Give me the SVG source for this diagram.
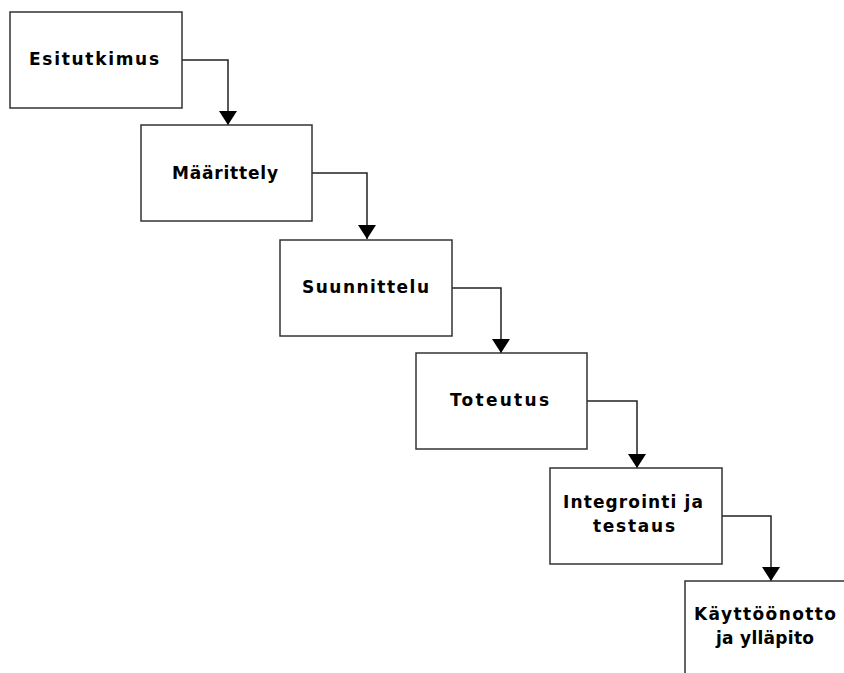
<svg xmlns="http://www.w3.org/2000/svg" width="844" height="673" viewBox="0 0 844 673">
<style>
.box{fill:#ffffff;stroke:#333333;stroke-width:1.5}
.lbl{font-family:"DejaVu Sans","Liberation Sans",sans-serif;font-weight:bold;font-size:17px;fill:#000000}
.con{fill:none;stroke:#222222;stroke-width:1.5;marker-end:url(#arr)}
</style>
<defs>
<marker id="arr" viewBox="0 0 14 18" refX="14" refY="9" markerWidth="14" markerHeight="18" markerUnits="userSpaceOnUse" orient="auto">
<path d="M0,0 L14,9 L0,18 Z" fill="#000000"/>
</marker>
</defs>
<rect width="844" height="673" fill="#ffffff"/>
<g id="connectors">
<path class="con" d="M182,60 H228 V125"/>
<path class="con" d="M312,173 H367 V239"/>
<path class="con" d="M452,288 H501 V353"/>
<path class="con" d="M587,401 H637 V468"/>
<path class="con" d="M722,516 H771 V581"/>
</g>
<g id="esitutkimus">
<rect class="box" x="10" y="12" width="172" height="96"/>
<text class="lbl" x="29" y="65" textLength="130" lengthAdjust="spacing">Esitutkimus</text>
</g>
<g id="maarittely">
<rect class="box" x="141" y="125" width="171" height="96"/>
<text class="lbl" x="172" y="179" textLength="106" lengthAdjust="spacing">Määrittely</text>
</g>
<g id="suunnittelu">
<rect class="box" x="280" y="240" width="172" height="96"/>
<text class="lbl" x="302" y="293" textLength="127" lengthAdjust="spacing">Suunnittelu</text>
</g>
<g id="toteutus">
<rect class="box" x="416" y="353" width="171" height="96"/>
<text class="lbl" x="450" y="406" textLength="99" lengthAdjust="spacing">Toteutus</text>
</g>
<g id="integrointi">
<rect class="box" x="550" y="468" width="172" height="96"/>
<text class="lbl" x="563" y="508" textLength="140" lengthAdjust="spacing">Integrointi ja</text>
<text class="lbl" x="593" y="532" textLength="82" lengthAdjust="spacing">testaus</text>
</g>
<g id="kayttoonotto">
<rect class="box" x="685" y="581" width="172" height="100"/>
<text class="lbl" x="694" y="620" textLength="142" lengthAdjust="spacing">Käyttöönotto</text>
<text class="lbl" x="716" y="644" textLength="98" lengthAdjust="spacing">ja ylläpito</text>
</g>
</svg>
